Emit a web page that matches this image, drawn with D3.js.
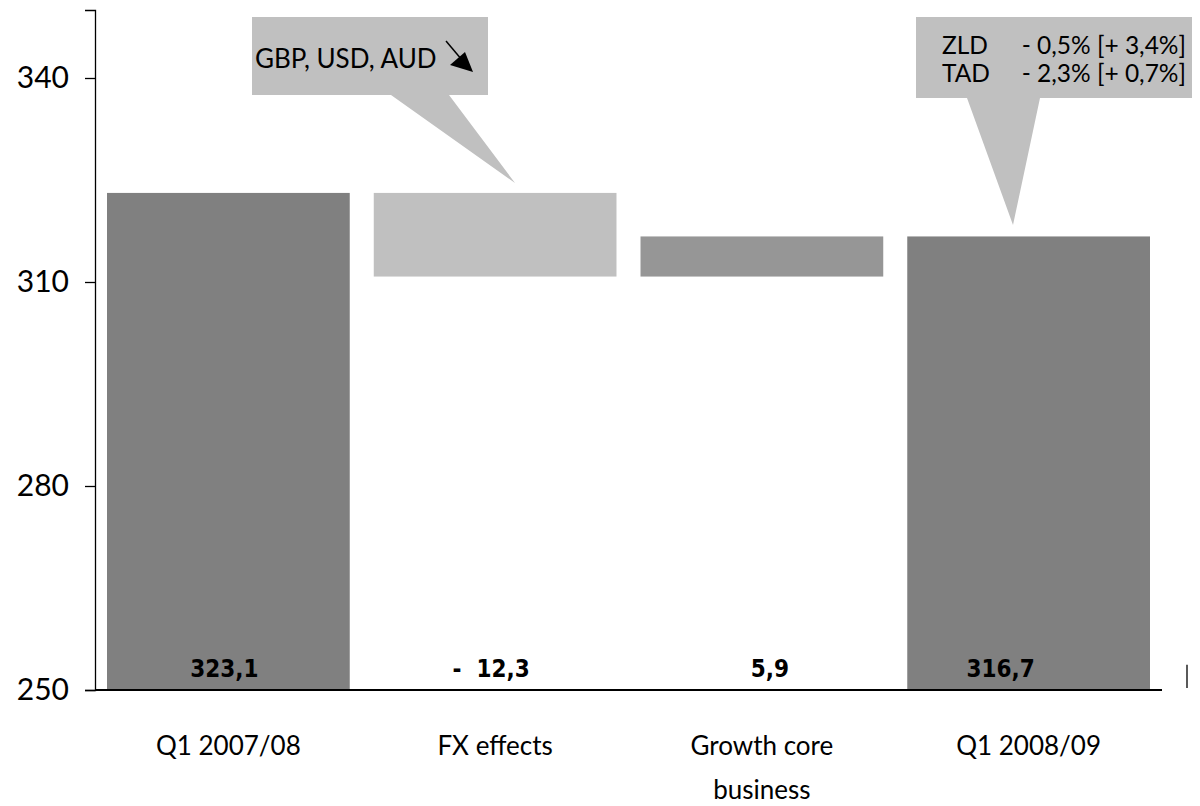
<!DOCTYPE html>
<html>
<head>
<meta charset="utf-8">
<script src="https://cdn.jsdelivr.net/npm/d3@7"></script>
<style>
  html, body { margin: 0; padding: 0; background: #fff; }
  svg { display: block; }
  text { font-family: Lato, "Open Sans", sans-serif; fill: #000; }
</style>
</head>
<body>
<svg id="chart"></svg>
<script>
// chart data
const categories = ['Q1 2007/08', 'FX effects', 'Growth core business', 'Q1 2008/09']
const categoryLines = [['Q1 2007/08'], ['FX effects'], ['Growth core', 'business'], ['Q1 2008/09']]
const barStart = [250, 310.8, 310.8, 250]
const barEnd = [323.1, 323.1, 316.7, 316.7]
const valueLabels = ['323,1', '-  12,3', '5,9', '316,7']
const barColors = ['#808080', '#c0c0c0', '#969696', '#808080']
const yTicks = [250, 280, 310, 340]
const fxNote = 'GBP, USD, AUD'
const zldRow = ['ZLD', '- 0,5% [+ 3,4%]']
const tadRow = ['TAD', '- 2,3% [+ 0,7%]']

const width = 1200
const height = 806

const svg = d3.select('#chart')
  .attr('width', width)
  .attr('height', height)

const x = d3.scaleBand()
  .domain(categories)
  .range([95, 1162])
  .paddingInner(0.09)
  .paddingOuter(0.045)

const y = d3.scaleLinear()
  .domain([250, 350])
  .range([690, 10])

// bars
svg.selectAll('.bar')
  .data(categories)
  .enter()
  .append('rect')
  .attr('class', 'bar')
  .attr('x', d => x(d))
  .attr('width', x.bandwidth())
  .attr('y', (d, i) => y(barEnd[i]))
  .attr('height', (d, i) => y(barStart[i]) - y(barEnd[i]))
  .attr('fill', (d, i) => barColors[i])

// y axis
const yAxis = d3.axisLeft(y)
  .tickValues(yTicks)
  .tickSize(10)
  .tickPadding(16)
const gy = svg.append('g')
  .attr('transform', `translate(${x.range()[0]},0)`)
  .call(yAxis)
gy.select('.domain').attr('stroke', '#000').attr('stroke-width', 1.3)
gy.selectAll('.tick line').attr('stroke', '#000').attr('stroke-width', 1.3)
gy.selectAll('.tick text')
  .style('font-size', '30px')
  .style('font-family', 'Lato, sans-serif')
  .attr('fill', '#000')

// x axis baseline
svg.append('line')
  .attr('x1', x.range()[0])
  .attr('x2', x.range()[1])
  .attr('y1', y(250))
  .attr('y2', y(250))
  .attr('stroke', '#000')
  .attr('stroke-width', 2)

// stray marker right of axis
svg.append('line')
  .attr('x1', 1187).attr('x2', 1187)
  .attr('y1', y(253.7)).attr('y2', y(250.3))
  .attr('stroke', '#000')
  .attr('stroke-width', 1.3)

// value labels inside bars
svg.selectAll('.val')
  .data(valueLabels)
  .enter()
  .append('text')
  .attr('class', 'val')
  .attr('x', (d, i) => x(categories[i]) + x.bandwidth() / 2 + (i === 3 ? -28 : i === 2 ? 8 : -4))
  .attr('y', y(250) - 13)
  .attr('text-anchor', 'middle')
  .style('font-family', '"DejaVu Sans Condensed", "DejaVu Sans", sans-serif')
  .style('font-stretch', 'condensed')
  .style('font-weight', 'bold')
  .style('font-size', '24px')
  .style('white-space', 'pre')
  .text(d => d)

// category labels
const cat = svg.selectAll('.cat')
  .data(categoryLines)
  .enter()
  .append('text')
  .attr('class', 'cat')
  .attr('text-anchor', 'middle')
  .style('font-size', '26px')
  .attr('y', 755)
cat.selectAll('tspan')
  .data((d, i) => d.map(t => ({ t, i })))
  .enter()
  .append('tspan')
  .attr('x', d => x(categories[d.i]) + x.bandwidth() / 2)
  .attr('dy', (d, j) => j === 0 ? 0 : 44)
  .text(d => d.t)

// callout 1: FX note
const c1 = svg.append('g')
c1.append('path')
  .attr('d', 'M252,17 H488 V95 H449 L515,183 L391,95 H252 Z')
  .attr('fill', '#c0c0c0')
c1.append('text')
  .attr('x', 255)
  .attr('y', 68)
  .style('font-size', '26px')
  .text(fxNote)
c1.append('line')
  .attr('x1', 446).attr('y1', 41)
  .attr('x2', 462).attr('y2', 60)
  .attr('stroke', '#000')
  .attr('stroke-width', 1.5)
c1.append('path')
  .attr('d', 'M450,65 L465,52 L473,72 Z')
  .attr('fill', '#000')

// callout 2: ZLD / TAD
const c2 = svg.append('g')
c2.append('path')
  .attr('d', 'M916,17 H1192 V98 H1040 L1013,225 L967,98 H916 Z')
  .attr('fill', '#c0c0c0')
const rows = [zldRow, tadRow]
rows.forEach((r, i) => {
  c2.append('text')
    .attr('x', 942)
    .attr('y', 54 + i * 28)
    .style('font-size', '24.5px')
    .text(r[0])
  c2.append('text')
    .attr('x', 1186)
    .attr('y', 54 + i * 28)
    .attr('text-anchor', 'end')
    .style('font-size', '24.5px')
    .text(r[1])
})
</script>
</body>
</html>
